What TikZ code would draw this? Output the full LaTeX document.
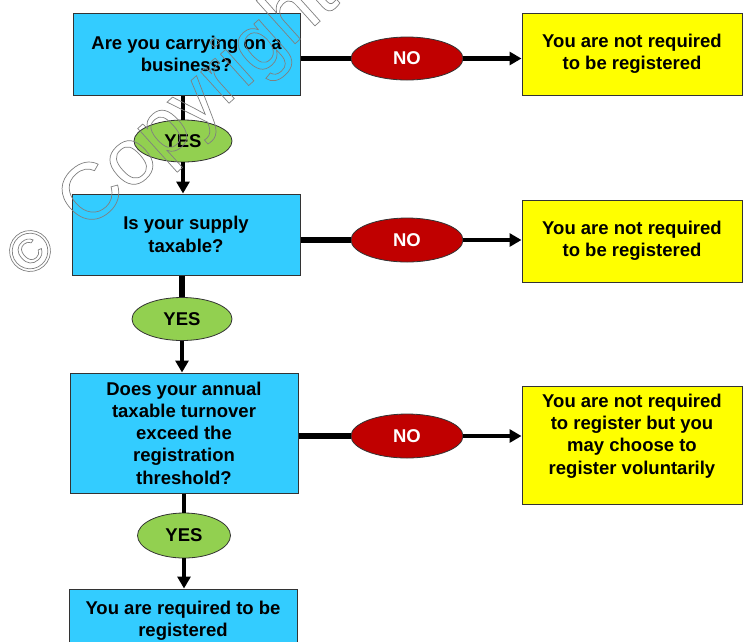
\documentclass[tikz,border=0pt]{standalone}
\usepackage{fontspec}
\setmainfont{Liberation Sans}
\usetikzlibrary{shapes.geometric,arrows.meta}
\definecolor{qblue}{HTML}{33CCFF}
\definecolor{qyellow}{HTML}{FFFF00}
\definecolor{qred}{HTML}{C00000}
\definecolor{qgreen}{HTML}{92D050}
\definecolor{qedge}{HTML}{333333}
\definecolor{wmark}{HTML}{808080}
\newcommand\outlinetext[1]{\special{pdf:literal direct 1 Tr 0.7 w}#1\special{pdf:literal direct 0 Tr}}
\begin{document}
\begin{tikzpicture}[x=1pt,y=-1pt,
 txt/.style={font=\fontsize{18.5}{22.3}\selectfont\bfseries, align=center},
 bluebox/.style={txt, rectangle, draw=qedge, line width=1pt, fill=qblue, inner sep=0pt},
 yellowbox/.style={txt, rectangle, draw=qedge, line width=1pt, fill=qyellow, inner sep=0pt},
 yesell/.style={txt, ellipse, draw=qedge, line width=0.8pt, fill=qgreen, inner sep=0pt},
 noell/.style={txt, text=white, ellipse, draw=qedge, line width=0.8pt, fill=qred, inner sep=0pt},
 link/.style={line width=4.5pt},
 heavylink/.style={line width=6.5pt},
 arrowlink/.style={line width=4.5pt, -{Triangle[length=12pt,width=13pt]}},
 wm/.style={text=wmark, inner sep=0pt},
]
\useasboundingbox (0,0) rectangle (743,641);
\clip (0,0) rectangle (743,641);

% question boxes
\node[bluebox, minimum width=227pt, minimum height=82pt] (b1) at (186.5,54) {Are you carrying on a\\business?};
\node[bluebox, minimum width=228pt, minimum height=81pt] (b2) at (186,234.5) {Is your supply\\taxable?};
\node[bluebox, minimum width=228pt, minimum height=120pt] (b3) at (184,433) {Does your annual\\taxable turnover\\exceed the\\registration\\threshold?};
\node[bluebox, minimum width=228pt, minimum height=82pt] (b4) at (183,630) {You are required to be\\registered\\\mbox{}};

% answer boxes
\node[yellowbox, minimum width=220pt, minimum height=82pt] (r1) at (632,54) {You are not required\\to be registered};
\node[yellowbox, minimum width=220pt, minimum height=82pt] (r2) at (632,241) {You are not required\\to be registered};
\node[yellowbox, minimum width=220pt, minimum height=118pt] (r3) at (632,445) {You are not required\\to register but you\\may choose to\\register voluntarily\\\mbox{}};

% yes ellipses
\node[yesell, minimum width=98pt, minimum height=42pt] (y1) at (183,141) {YES};
\node[yesell, minimum width=100pt, minimum height=43pt] (y2) at (182,319) {YES};
\node[yesell, minimum width=93pt, minimum height=45pt] (y3) at (184,535.5) {YES};

% no ellipses
\node[noell, minimum width=112pt, minimum height=43pt] (n1) at (407,58.5) {NO};
\node[noell, minimum width=112pt, minimum height=44pt] (n2) at (407,240) {NO};
\node[noell, minimum width=112pt, minimum height=44pt] (n3) at (407,436) {NO};

% vertical connectors
\draw[link] (b1.south -| y1.north) -- (y1.north);
\draw[arrowlink] (y1.south) -- (y1.south |- b2.north);
\draw[heavylink] (b2.south -| y2.north) -- (y2.north);
\draw[arrowlink] (y2.south) -- (y2.south |- b3.north);
\draw[link] (b3.south -| y3.north) -- (y3.north);
\draw[arrowlink] (y3.south) -- (y3.south |- b4.north);

% horizontal connectors
\draw[link] (b1.east |- n1.west) -- (n1.west);
\draw[arrowlink] (n1.east) -- (n1.east -| r1.west);
\draw[heavylink] (b2.east |- n2.west) -- (n2.west);
\draw[arrowlink] (n2.east) -- (n2.east -| r2.west);
\draw[heavylink] (b3.east |- n3.west) -- (n3.west);
\draw[arrowlink] (n3.east) -- (n3.east -| r3.west);

% watermark
\node[wm, rotate=42, anchor=base west, font=\fontsize{80}{80}\selectfont] (cpy) at (86,232) {\outlinetext{Copyright}};
\node[wm, rotate=42, font=\fontsize{58}{58}\selectfont] (cmark) at (30,251) {\outlinetext{©}};
\end{tikzpicture}
\end{document}
